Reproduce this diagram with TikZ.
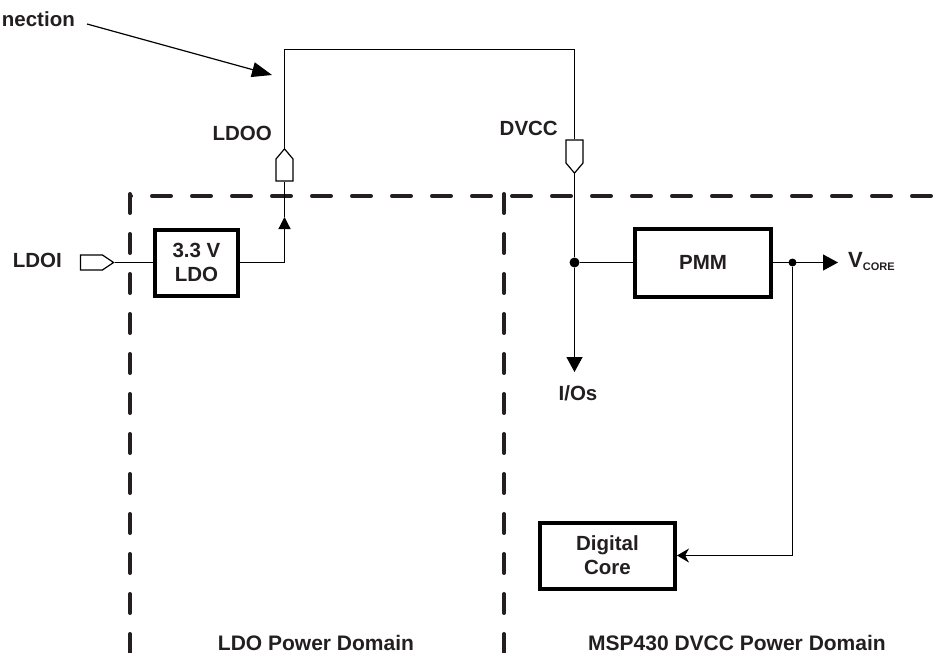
\documentclass[tikz,border=0pt]{standalone}
\usepackage{fontspec}
\setmainfont{Liberation Sans}
\usetikzlibrary{arrows.meta, positioning, shapes.symbols}
\definecolor{inkdark}{RGB}{35,31,32}

\begin{document}
\begin{tikzpicture}[
    x=1pt, y=-1pt,
    every node/.style={font=\fontsize{20.5}{24}\selectfont\bfseries, text=inkdark},
    block/.style={rectangle, draw=black, line width=4pt, fill=white, align=center, inner sep=0pt},
    tag/.style={inner sep=0pt},
    domaintag/.style={tag, anchor=base, font=\fontsize{21}{24}\selectfont\bfseries},
    padshape/.style={signal, signal from=nowhere, draw=black, line width=1.2pt, fill=white,
                     inner sep=0pt, signal pointer angle=80},
    junction/.style={circle, fill=black, inner sep=0pt},
    wire/.style={line width=1.2pt},
    border/.style={line width=4pt, draw=inkdark, line cap=round},
    arrow/.style={-{Triangle[length=15pt, width=16pt]}, wire}
]
\useasboundingbox (0,0) rectangle (938,653);

% Power domain borders
\draw [border, dash pattern=on 19pt off 21pt, dash phase=18pt] (130,196) -- (931,196);
\draw [border, dash pattern=on 19pt off 21pt] (130,194) -- (130,653);
\draw [border, dash pattern=on 19pt off 21pt] (504,194) -- (504,653);

% Blocks
\node (ldo) [block, minimum width=83pt, minimum height=66pt] at (196.5,262.5) {3.3 V\\LDO};
\node (pmm) [block, minimum width=136pt, minimum height=68pt] at (703,262.5) {PMM};
\node (core) [block, minimum width=135pt, minimum height=66pt] at (607.5,555.5) {Digital\\Core};

% Pads
\node (ldoipad) [padshape, signal to=east, signal pointer angle=68, minimum width=33pt, minimum height=15pt] at (91.5,262.5) {};
\node (ldoopad) [padshape, signal to=north, minimum width=17pt, minimum height=22pt] at (284.5,170) {};
\node (dvccpad) [padshape, signal to=south, minimum width=17pt, minimum height=23pt] at (574.5,151.5) {};

% Junctions and wire ends
\node (dvccdot) [junction, minimum size=10pt] at (574.5,262.5) {};
\node (vcoredot) [junction, minimum size=8pt] at (792.5,262.5) {};
\coordinate (toplink) at (284.5,49.5);
\coordinate (ldoup) at (284.5,217);
\coordinate (iotip) at (574.5,372);
\coordinate (vcoretip) at (838,262.5);
\coordinate (notestart) at (87,24);
\coordinate (notetip) at (272,75);

% Labels
\node (note) [tag, anchor=base east] at (75,26) {nection};
\node (ldoilabel) [tag, left=18pt of ldoipad, yshift=2.5pt] {LDOI};
\node (ldoolabel) [tag, anchor=east] at (272,133) {LDOO};
\node (dvcclabel) [tag, anchor=east] at (558,128) {DVCC};
\node (iolabel) [tag, below=13pt of iotip, xshift=3.5pt] {I/Os};
\node (vcorelabel) [tag, anchor=base west] at (848,267) {\fontsize{22}{24}\selectfont V\raisebox{-3.3pt}{\fontsize{11}{12}\selectfont CORE}};
\node (ldodomain) [domaintag] at (316,650) {LDO Power Domain};
\node (dvccdomain) [domaintag] at (737,650) {MSP430 DVCC Power Domain};

% Arrows
\draw [wire] (ldoipad.east) -- (ldo.west);
\draw [wire] (ldoopad.north) -- (toplink) -| (dvccpad.north);
\draw [wire, -{Triangle[length=12pt, width=12pt]}] (ldo.east) -| (ldoup);
\draw [wire] (ldoup) -- (ldoopad.south);
\draw [wire] (dvccpad.south) -- (dvccdot);
\draw [arrow] (dvccdot) -- (iotip);
\draw [wire] (dvccdot) -- (pmm.west);
\draw [arrow] (pmm.east) -- (vcoretip);
\draw [wire, -{Stealth[length=12pt, width=14pt]}] (vcoredot) |- (core.east);
\draw [wire, -{Triangle[length=20pt, width=15pt]}] (notestart) -- (notetip);

\end{tikzpicture}
\end{document}
